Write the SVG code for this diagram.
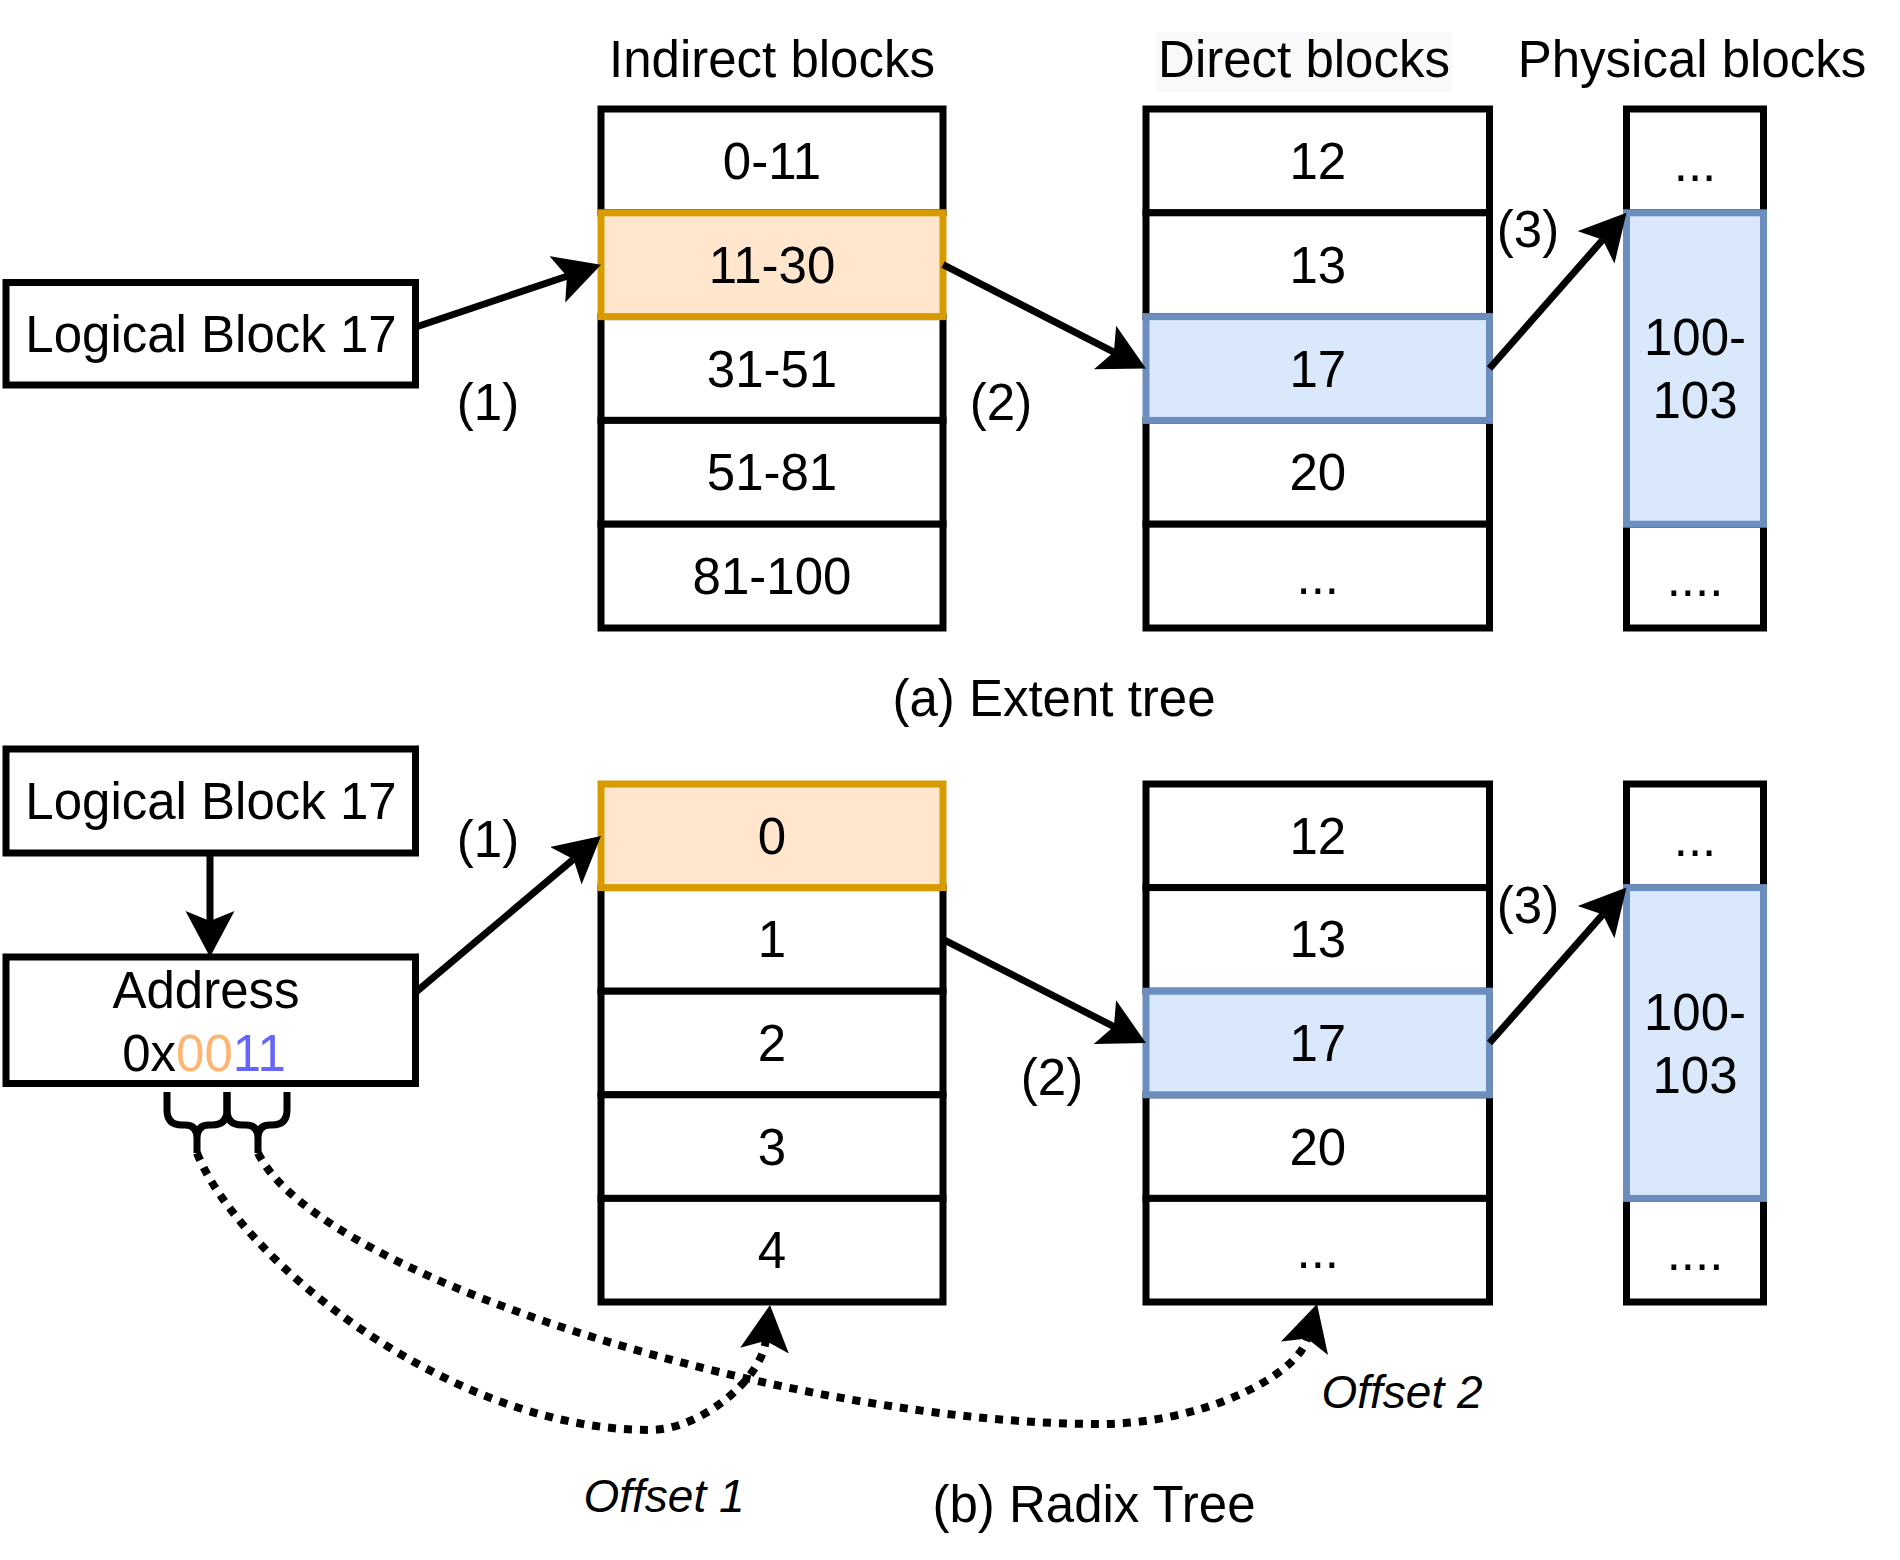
<svg xmlns="http://www.w3.org/2000/svg" width="1900" height="1560" viewBox="0 0 1900 1560">
<style>
text{font-family:"Liberation Sans",Arial,Helvetica,sans-serif;font-size:51px;fill:#000;text-anchor:middle}
.it{font-style:italic;font-size:46px}
.cell{fill:#fff;stroke:#000;stroke-width:7}
.ho{fill:#ffe6cc;stroke:#d79b00;stroke-width:7}
.hb{fill:#dae8fc;stroke:#6c8ebf;stroke-width:7}
.box{fill:#fff;stroke:#000;stroke-width:7}
.edge{fill:none;stroke:#000;stroke-width:7;marker-end:url(#ah)}
.dot{fill:none;stroke:#000;stroke-width:8;stroke-dasharray:8 8;marker-end:url(#ah)}
.brace{fill:none;stroke:#000;stroke-width:7}
</style>
<defs>
<marker id="ah" markerUnits="userSpaceOnUse" markerWidth="48" markerHeight="50" viewBox="0 0 48 50" refX="10" refY="25" orient="auto">
<path d="M0,0.5 L46,25 L0,49.5 L10,25 Z" fill="#000"/>
</marker>
</defs>

<!-- titles -->
<g id="title-indirect"><text x="772" y="77">Indirect blocks</text></g>
<g id="title-direct"><rect x="1156" y="32" width="296" height="60" fill="#f8f9fa"/><text x="1304" y="77">Direct blocks</text></g>
<g id="title-physical"><text x="1692" y="77">Physical blocks</text></g>

<!-- (a) Extent tree -->
<g id="a-logical"><rect class="box" x="6" y="282.5" width="409.5" height="102.5"/><text x="211" y="352">Logical Block 17</text></g>

<g id="a-ind-0"><rect class="cell" x="601" y="109" width="342" height="103.8"/><text x="772" y="179">0-11</text></g>
<g id="a-ind-2"><rect class="cell" x="601" y="316.6" width="342" height="103.8"/><text x="772" y="386.5">31-51</text></g>
<g id="a-ind-3"><rect class="cell" x="601" y="420.4" width="342" height="103.8"/><text x="772" y="490.3">51-81</text></g>
<g id="a-ind-4"><rect class="cell" x="601" y="524.2" width="342" height="103.8"/><text x="772" y="594.1">81-100</text></g>
<g id="a-ind-1"><rect class="ho" x="601" y="212.8" width="342" height="103.8"/><text x="772" y="282.7">11-30</text></g>

<g id="a-dir-0"><rect class="cell" x="1146" y="109" width="343.5" height="103.8"/><text x="1317.75" y="179">12</text></g>
<g id="a-dir-1"><rect class="cell" x="1146" y="212.8" width="343.5" height="103.8"/><text x="1317.75" y="282.7">13</text></g>
<g id="a-dir-3"><rect class="cell" x="1146" y="420.4" width="343.5" height="103.8"/><text x="1317.75" y="490.3">20</text></g>
<g id="a-dir-4"><rect class="cell" x="1146" y="524.2" width="343.5" height="103.8"/><text x="1317.75" y="594.1">...</text></g>
<g id="a-dir-2"><rect class="hb" x="1146" y="316.6" width="343.5" height="103.8"/><text x="1317.75" y="386.5">17</text></g>

<g id="a-phy-0"><rect class="cell" x="1626.5" y="109" width="137" height="103.8"/><text x="1695" y="181">...</text></g>
<g id="a-phy-2"><rect class="cell" x="1626.5" y="524.2" width="137" height="103.8"/><text x="1695" y="596">....</text></g>
<g id="a-phy-1"><rect class="hb" x="1626.5" y="212.8" width="137" height="311.4"/><text x="1695" y="355">100-</text><text x="1695" y="418">103</text></g>

<g id="a-labels">
<text x="488" y="420">(1)</text>
<text x="1001" y="420">(2)</text>
<text x="1528" y="247">(3)</text>
<text x="1054" y="716">(a) Extent tree</text>
</g>

<!-- (b) Radix tree -->
<g id="b-logical"><rect class="box" x="6" y="749" width="409.5" height="104"/><text x="211" y="819">Logical Block 17</text></g>
<g id="b-address"><rect class="box" x="6" y="957" width="409.5" height="126.5"/><text x="206" y="1008">Address</text><text x="204" y="1071">0x<tspan fill="#FFB570">00</tspan><tspan fill="#6666FF">11</tspan></text></g>

<g id="b-ind-1"><rect class="cell" x="601" y="887.6" width="342" height="103.6"/><text x="772" y="957.4">1</text></g>
<g id="b-ind-2"><rect class="cell" x="601" y="991.2" width="342" height="103.6"/><text x="772" y="1061">2</text></g>
<g id="b-ind-3"><rect class="cell" x="601" y="1094.8" width="342" height="103.6"/><text x="772" y="1164.6">3</text></g>
<g id="b-ind-4"><rect class="cell" x="601" y="1198.4" width="342" height="103.6"/><text x="772" y="1268.2">4</text></g>
<g id="b-ind-0"><rect class="ho" x="601" y="784" width="342" height="103.6"/><text x="772" y="853.8">0</text></g>

<g id="b-dir-0"><rect class="cell" x="1146" y="784" width="343.5" height="103.6"/><text x="1317.75" y="853.8">12</text></g>
<g id="b-dir-1"><rect class="cell" x="1146" y="887.6" width="343.5" height="103.6"/><text x="1317.75" y="957.4">13</text></g>
<g id="b-dir-3"><rect class="cell" x="1146" y="1094.8" width="343.5" height="103.6"/><text x="1317.75" y="1164.6">20</text></g>
<g id="b-dir-4"><rect class="cell" x="1146" y="1198.4" width="343.5" height="103.6"/><text x="1317.75" y="1268.2">...</text></g>
<g id="b-dir-2"><rect class="hb" x="1146" y="991.2" width="343.5" height="103.6"/><text x="1317.75" y="1061">17</text></g>

<g id="b-phy-0"><rect class="cell" x="1626.5" y="784" width="137" height="103.6"/><text x="1695" y="855.8">...</text></g>
<g id="b-phy-2"><rect class="cell" x="1626.5" y="1198.4" width="137" height="103.6"/><text x="1695" y="1270.2">....</text></g>
<g id="b-phy-1"><rect class="hb" x="1626.5" y="887.6" width="137" height="310.8"/><text x="1695" y="1030">100-</text><text x="1695" y="1093">103</text></g>

<g id="b-braces">
<path class="brace" d="M167,1092 V1110 Q167,1125 182,1125 H185 Q197,1125 197,1138 V1153 M227,1092 V1110 Q227,1125 212,1125 H209 Q197,1125 197,1138"/>
<path class="brace" d="M227,1092 V1110 Q227,1125 242,1125 H246 Q258,1125 258,1138 V1153 M287,1092 V1110 Q287,1125 272,1125 H270 Q258,1125 258,1138"/>
</g>

<g id="b-labels">
<text x="488" y="857">(1)</text>
<text x="1052" y="1095">(2)</text>
<text x="1528" y="923">(3)</text>
<text class="it" x="664" y="1512">Offset 1</text>
<text class="it" x="1402" y="1408">Offset 2</text>
<text x="1094" y="1522">(b) Radix Tree</text>
</g>

<!-- connectors -->
<g id="connectors">
<path class="edge" d="M416,327 L566.9,276.2"/>
<path class="edge" d="M943,264.7 L1113.9,352.1"/>
<path class="edge" d="M1489.5,368.5 L1602.7,239.8"/>
<path class="edge" d="M210,853 L210,921"/>
<path class="edge" d="M416,992 L573.5,859.2"/>
<path class="edge" d="M943,939.4 L1113.9,1026.6"/>
<path class="edge" d="M1489.5,1043 L1602.7,914.6"/>
<path class="dot" d="M197,1153 C240,1260 450,1430 650,1430 C700,1430 761,1380 765.7,1340.7"/>
<path class="dot" d="M258,1153 C320,1280 800,1424 1100,1424 C1200,1424 1296.3,1377 1307.2,1338.6"/>
</g>
</svg>
